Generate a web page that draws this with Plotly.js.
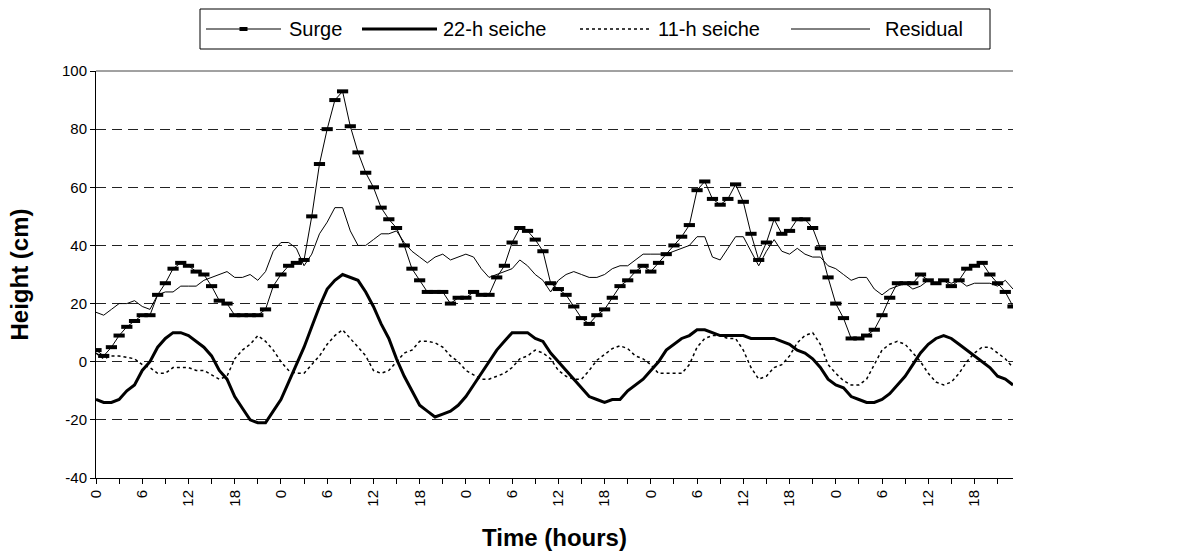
<!DOCTYPE html>
<html>
<head>
<meta charset="utf-8">
<script src="https://cdn.plot.ly/plotly-3.0.1.min.js"></script>
<style>html,body{margin:0;padding:0;background:#fff;}#chart{width:1182px;height:558px;}</style>
</head>
<body>
<div id="chart"></div>
<script>
// Hourly values, hour 0 .. 119
const surge = [
  4, 2, 5, 9, 12, 14, 16, 16, 23, 27, 32, 34,
  33, 31, 30, 26, 21, 20, 16, 16, 16, 16, 18, 26,
  30, 33, 34, 35, 50, 68, 80, 90, 93, 81, 72, 65,
  60, 53, 49, 46, 40, 32, 28, 24, 24, 24, 20, 22,
  22, 24, 23, 23, 29, 33, 41, 46, 45, 42, 38, 27,
  25, 23, 19, 15, 13, 16, 18, 22, 26, 28, 31, 33,
  31, 34, 37, 40, 43, 47, 59, 62, 56, 54, 56, 61,
  55, 44, 35, 41, 49, 44, 45, 49, 49, 46, 39, 29,
  20, 15, 8, 8, 9, 11, 16, 22, 27, 27, 27, 30,
  28, 27, 28, 26, 28, 32, 33, 34, 30, 27, 24, 19
];
const seiche22 = [
  -13, -14, -14, -13, -10, -8, -3, 0, 5, 8, 10, 10,
  9, 7, 5, 2, -3, -6, -12, -16, -20, -21, -21, -17,
  -13, -7, -1, 5, 12, 19, 25, 28, 30, 29, 28, 24,
  19, 13, 8, 1, -5, -10, -15, -17, -19, -18, -17, -15,
  -12, -8, -4, 0, 4, 7, 10, 10, 10, 8, 7, 3,
  0, -3, -6, -9, -12, -13, -14, -13, -13, -10, -8, -6,
  -3, 0, 4, 6, 8, 9, 11, 11, 10, 9, 9, 9,
  9, 8, 8, 8, 8, 7, 6, 4, 3, 1, -2, -6,
  -8, -9, -12, -13, -14, -14, -13, -11, -8, -5, -1, 3,
  6, 8, 9, 8, 6, 4, 2, 0, -2, -5, -6, -8
];
const seiche11 = [
  3, 1, 2, 2, 1.5, 1, -1, -2, -4, -4, -2, -2,
  -2, -3, -3, -4.5, -6, -5, 1, 4, 6, 9, 7, 4,
  0, -3, -4, -4, -1, 2, 6, 9, 11, 8, 5, 2,
  -3, -4, -3, 0, 3, 4, 7, 7, 6.5, 5, 2, 0,
  -3, -4.5, -6, -6, -5, -4, -2, 1, 2, 4, 3, 1,
  -3, -5, -6, -6, -3, 0.5, 2.5, 4.5, 5.5, 4.5, 2, 1,
  -1, -4, -4, -4, -4, -1, 5, 8, 9, 9, 8, 8,
  4, -2, -6, -5, -2, -1, 2, 6.5, 9, 10, 6, -1,
  -4, -6.5, -8, -8, -6, -1, 4, 6, 7, 6, 3, 0,
  -4, -7, -8, -7, -4, 0, 3, 5, 5, 3, 1, -2
];
const residual = [
  17, 16, 18, 20, 20, 21, 19, 18, 23, 24, 24, 26,
  26, 26, 28, 29, 30, 31, 29, 29, 30, 28, 31, 38,
  41, 41, 39, 33, 37, 44, 48, 53, 53, 45, 40, 40,
  42, 44, 44, 45, 41, 38, 36, 34, 36, 37, 35, 36,
  37, 36, 32, 29, 30, 31, 32, 35, 33, 30, 28, 24,
  28, 30, 31, 30, 29, 29, 30, 32, 33, 33, 35, 37,
  37, 37, 37, 38, 39, 40, 43, 43, 36, 35, 39, 43,
  43, 38, 33, 38, 42, 38, 37, 39, 37, 36, 36, 33,
  32, 30, 28, 29, 29, 25, 23, 25, 26, 27, 25, 26,
  28, 27, 28, 27, 28, 26, 27, 27, 27, 26, 28, 25
];
const seriesNames = ["Surge", "22-h seiche", "11-h seiche", "Residual"];
const tickHours = [0,3,6,9,12,15,18,21,24,27,30,33,36,39,42,45,48,51,54,57,60,63,66,69,72,75,78,81,84,87,90,93,96,99,102,105,108,111,114,117];
const tickLabels = ["0","","6","","12","","18","","0","","6","","12","","18","","0","","6","","12","","18","","0","","6","","12","","18","","0","","6","","12","","18",""];
const yTickVals = [-40, -20, 0, 20, 40, 60, 80, 100];
const yTickLabels = ["-40", "-20", "0", "20", "40", "60", "80", "100"];
const hours = surge.map((_, i) => i);

const FONT = "Liberation Sans, Arial, sans-serif";

// plot area in pixels
const L = 96, R = 1013, T = 71, B = 478;
const px = v => (v - L) / (R - L);
const py = v => (B - v) / (B - T);

const traces = [
  {x: hours, y: surge, name: seriesNames[0], type: "scatter", mode: "lines+markers",
   line: {color: "#000", width: 1},
   marker: {symbol: "line-ew", size: 8, color: "#000", line: {color: "#000", width: 4}}},
  {x: hours, y: seiche22, name: seriesNames[1], type: "scatter", mode: "lines",
   line: {color: "#000", width: 3}},
  {x: hours, y: seiche11, name: seriesNames[2], type: "scatter", mode: "lines",
   line: {color: "#000", width: 1.5, dash: "dot"}},
  {x: hours, y: residual, name: seriesNames[3], type: "scatter", mode: "lines",
   line: {color: "#000", width: 1}}
];

// manual legend (positions in pixels)
const legY = 29;
const legendItems = [
  {x0: 206, x1: 281, tx: 287, width: 1, dash: "solid", marker: true},
  {x0: 362, x1: 437, tx: 441, width: 3, dash: "solid"},
  {x0: 580, x1: 651, tx: 656, width: 1.5, dash: "dot"},
  {x0: 791, x1: 870, tx: 883, width: 1, dash: "solid"}
];
const shapes = [
  {type: "line", xref: "paper", yref: "paper", x0: 0, x1: 1, y0: 1, y1: 1,
   line: {color: "#444", width: 1}},
  {type: "rect", xref: "paper", yref: "paper", x0: px(200), x1: px(990), y0: py(9), y1: py(49),
   line: {color: "#000", width: 1}, fillcolor: "rgba(0,0,0,0)"}
];
const annotations = [];
legendItems.forEach((it, i) => {
  shapes.push({type: "line", xref: "paper", yref: "paper", x0: px(it.x0), x1: px(it.x1),
    y0: py(legY), y1: py(legY), line: {color: "#000", width: it.width, dash: it.dash}});
  if (it.marker) {
    const c = (it.x0 + it.x1) / 2;
    shapes.push({type: "rect", xref: "paper", yref: "paper", x0: px(c - 4), x1: px(c + 4),
      y0: py(legY + 2), y1: py(legY - 2), line: {width: 0}, fillcolor: "#000"});
  }
  annotations.push({xref: "paper", yref: "paper", x: px(it.tx), y: py(legY),
    xanchor: "left", yanchor: "middle", showarrow: false, text: seriesNames[i],
    font: {family: FONT, size: 20, color: "#000"}});
});

const layout = {
  width: 1182, height: 558,
  margin: {l: L, r: 1182 - R, t: T, b: 558 - B},
  paper_bgcolor: "#fff", plot_bgcolor: "#fff",
  font: {family: FONT, size: 15, color: "#000"},
  showlegend: false,
  xaxis: {range: [0, 119], tickmode: "array", tickvals: tickHours, ticktext: tickLabels,
    tickangle: -90, ticks: "outside", ticklen: 5, tickcolor: "#000",
    showline: true, linecolor: "#000", linewidth: 1, showgrid: false, zeroline: false,
    tickfont: {family: FONT, size: 15, color: "#000"},
    title: {text: "<b>Time (hours)</b>", font: {family: FONT, size: 24, color: "#000"}, standoff: 23},
    automargin: false},
  yaxis: {range: [-40, 100], tickmode: "array", tickvals: yTickVals, ticktext: yTickLabels,
    ticks: "outside", ticklen: 5, tickcolor: "#000",
    showline: true, linecolor: "#000", linewidth: 1,
    showgrid: true, gridcolor: "#222", gridwidth: 1, griddash: "10px,6px", zeroline: false,
    tickfont: {family: FONT, size: 15, color: "#000"},
    title: {text: "<b>Height (cm)</b>", font: {family: FONT, size: 24, color: "#000"}, standoff: 26},
    automargin: false},
  shapes: shapes,
  annotations: annotations
};

Plotly.newPlot("chart", traces, layout, {displayModeBar: false, staticPlot: true});
</script>
</body>
</html>
